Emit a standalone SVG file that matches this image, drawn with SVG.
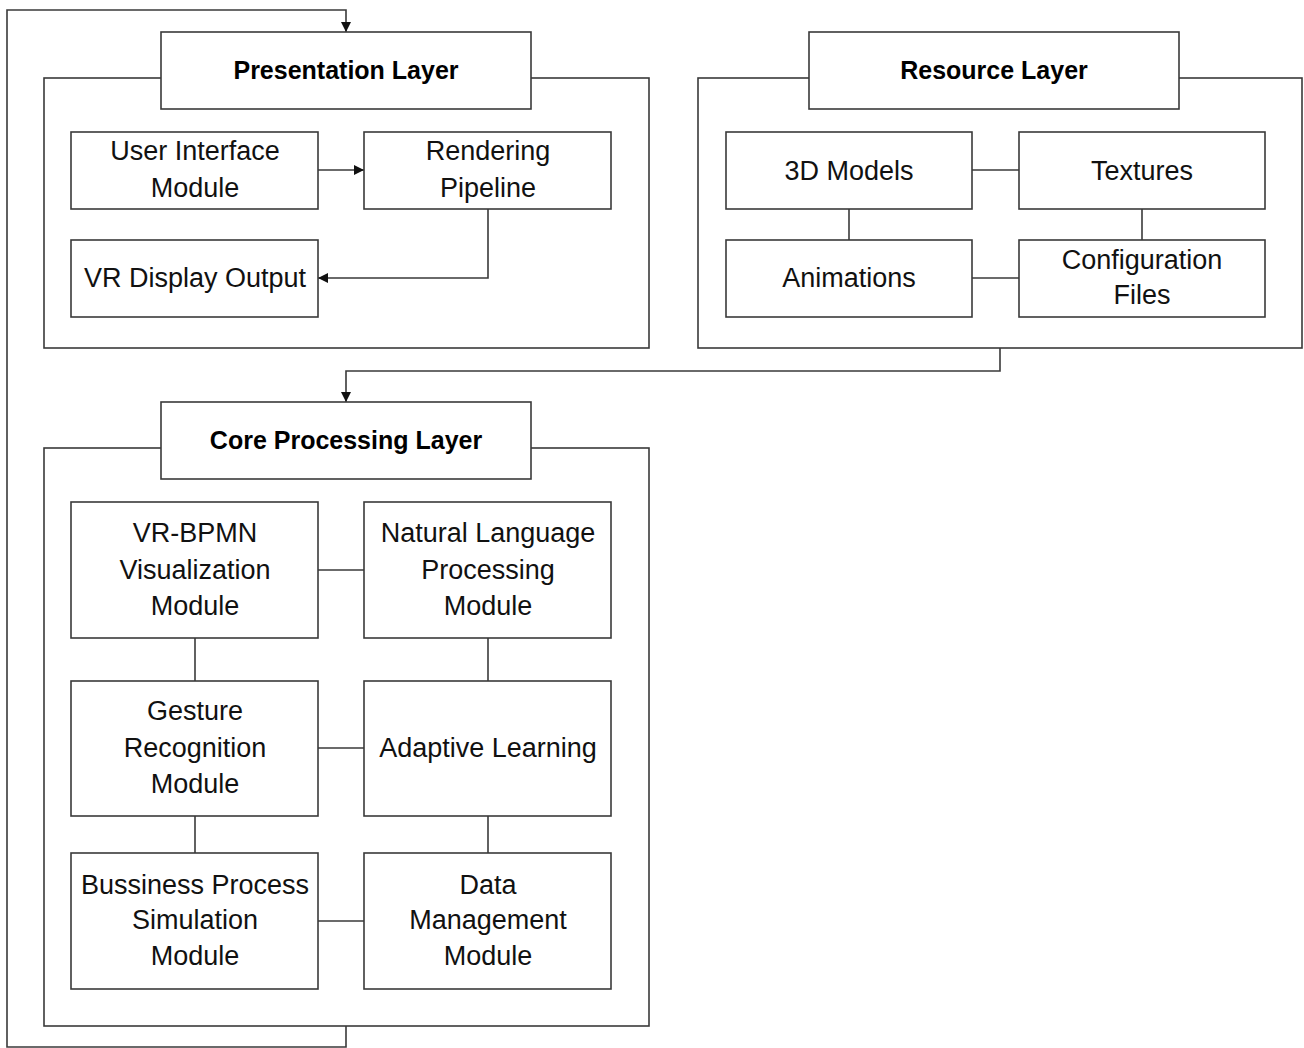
<svg xmlns="http://www.w3.org/2000/svg" width="1304" height="1048" viewBox="0 0 1304 1048">
  <style>
    .frame { fill: none; stroke: #3a3a3a; stroke-width: 1.6; }
    .box { fill: #ffffff; stroke: #3a3a3a; stroke-width: 1.6; }
    .link { fill: none; stroke: #3a3a3a; stroke-width: 1.6; }
    .lbl { font-family: "Liberation Sans", Arial, sans-serif; font-size: 27px; fill: #111; text-anchor: middle; }
    .hdr { font-family: "Liberation Sans", Arial, sans-serif; font-size: 25px; font-weight: bold; fill: #000; text-anchor: middle; }
  </style>
  <defs>
    <marker id="arrow" viewBox="0 0 10 10" refX="10" refY="5" markerWidth="11" markerHeight="10" markerUnits="userSpaceOnUse" orient="auto">
      <path d="M0,0 L10,5 L0,10 z" fill="#111"/>
    </marker>
  </defs>
  <rect width="1304" height="1048" fill="#ffffff"/>

  <!-- layer containers -->
  <rect class="frame" x="44" y="78" width="605" height="270"/>
  <rect class="frame" x="698" y="78" width="604" height="270"/>
  <rect class="frame" x="44" y="448" width="605" height="578"/>

  <!-- connectors -->
  <g id="connectors">
    <!-- feedback loop: core layer back to presentation layer -->
    <path class="link" d="M346,1026 V1047 H7 V10 H346 V32" marker-end="url(#arrow)"/>
    <!-- resource layer feeds core layer -->
    <path class="link" d="M1000,348 V371 H346 V402" marker-end="url(#arrow)"/>
    <!-- presentation layer flow -->
    <path class="link" d="M318,170 H364" marker-end="url(#arrow)"/>
    <path class="link" d="M488,209 V278 H318" marker-end="url(#arrow)"/>
    <!-- resource layer links -->
    <path class="link" d="M972,170 H1019"/>
    <path class="link" d="M849,209 V240"/>
    <path class="link" d="M1142,209 V240"/>
    <path class="link" d="M972,278 H1019"/>
    <!-- core layer links -->
    <path class="link" d="M318,570 H364"/>
    <path class="link" d="M318,748 H364"/>
    <path class="link" d="M318,921 H364"/>
    <path class="link" d="M195,638 V681"/>
    <path class="link" d="M195,816 V853"/>
    <path class="link" d="M488,638 V681"/>
    <path class="link" d="M488,816 V853"/>
  </g>

  <!-- Presentation Layer -->
  <g id="presentation-layer">
    <rect class="box" x="161" y="32" width="370" height="77"/>
    <text class="hdr" x="346" y="79">Presentation Layer</text>
  </g>
  <g id="ui-module">
    <rect class="box" x="71" y="132" width="247" height="77"/>
    <text class="lbl" x="195" y="160">User Interface</text>
    <text class="lbl" x="195" y="197">Module</text>
  </g>
  <g id="rendering-pipeline">
    <rect class="box" x="364" y="132" width="247" height="77"/>
    <text class="lbl" x="488" y="160">Rendering</text>
    <text class="lbl" x="488" y="197">Pipeline</text>
  </g>
  <g id="vr-display-output">
    <rect class="box" x="71" y="240" width="247" height="77"/>
    <text class="lbl" x="195" y="287">VR Display Output</text>
  </g>

  <!-- Resource Layer -->
  <g id="resource-layer">
    <rect class="box" x="809" y="32" width="370" height="77"/>
    <text class="hdr" x="994" y="79">Resource Layer</text>
  </g>
  <g id="models-3d">
    <rect class="box" x="726" y="132" width="246" height="77"/>
    <text class="lbl" x="849" y="180">3D Models</text>
  </g>
  <g id="textures">
    <rect class="box" x="1019" y="132" width="246" height="77"/>
    <text class="lbl" x="1142" y="180">Textures</text>
  </g>
  <g id="animations">
    <rect class="box" x="726" y="240" width="246" height="77"/>
    <text class="lbl" x="849" y="287">Animations</text>
  </g>
  <g id="configuration-files">
    <rect class="box" x="1019" y="240" width="246" height="77"/>
    <text class="lbl" x="1142" y="269">Configuration</text>
    <text class="lbl" x="1142" y="304">Files</text>
  </g>

  <!-- Core Processing Layer -->
  <g id="core-processing-layer">
    <rect class="box" x="161" y="402" width="370" height="77"/>
    <text class="hdr" x="346" y="449">Core Processing Layer</text>
  </g>
  <g id="vr-bpmn-module">
    <rect class="box" x="71" y="502" width="247" height="136"/>
    <text class="lbl" x="195" y="542">VR-BPMN</text>
    <text class="lbl" x="195" y="579">Visualization</text>
    <text class="lbl" x="195" y="615">Module</text>
  </g>
  <g id="nlp-module">
    <rect class="box" x="364" y="502" width="247" height="136"/>
    <text class="lbl" x="488" y="542">Natural Language</text>
    <text class="lbl" x="488" y="579">Processing</text>
    <text class="lbl" x="488" y="615">Module</text>
  </g>
  <g id="gesture-module">
    <rect class="box" x="71" y="681" width="247" height="135"/>
    <text class="lbl" x="195" y="720">Gesture</text>
    <text class="lbl" x="195" y="757">Recognition</text>
    <text class="lbl" x="195" y="793">Module</text>
  </g>
  <g id="adaptive-learning">
    <rect class="box" x="364" y="681" width="247" height="135"/>
    <text class="lbl" x="488" y="757">Adaptive Learning</text>
  </g>
  <g id="simulation-module">
    <rect class="box" x="71" y="853" width="247" height="136"/>
    <text class="lbl" x="195" y="894">Bussiness Process</text>
    <text class="lbl" x="195" y="929">Simulation</text>
    <text class="lbl" x="195" y="965">Module</text>
  </g>
  <g id="data-module">
    <rect class="box" x="364" y="853" width="247" height="136"/>
    <text class="lbl" x="488" y="894">Data</text>
    <text class="lbl" x="488" y="929">Management</text>
    <text class="lbl" x="488" y="965">Module</text>
  </g>
</svg>
